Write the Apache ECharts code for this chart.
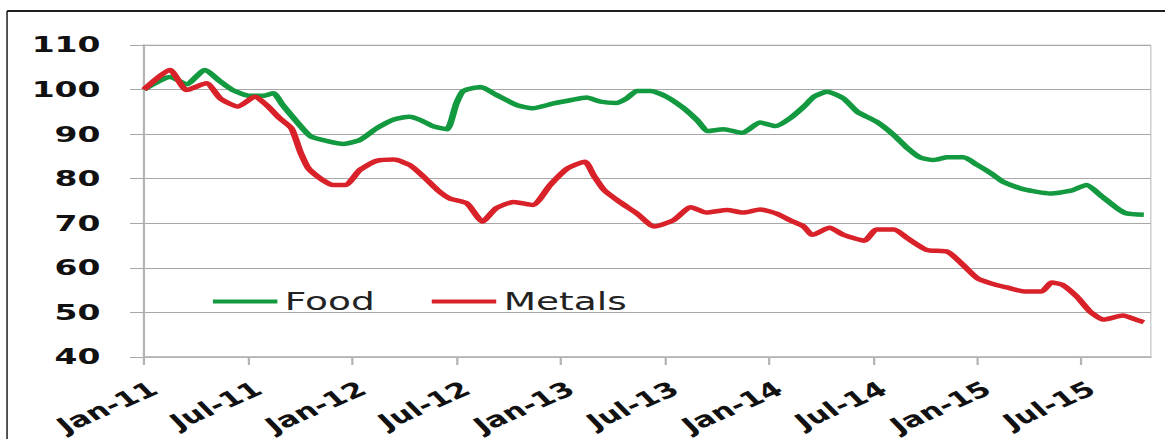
<!DOCTYPE html>
<html>
<head>
<meta charset="utf-8">
<script src="https://cdn.jsdelivr.net/npm/echarts@6/dist/echarts.min.js"></script>
<style>
  html, body { margin: 0; padding: 0; background: #fff; overflow: hidden; }
  /* the chart is laid out narrow and widened horizontally to the full frame */
  #chart { width: 777px; height: 439px; transform: scaleX(1.4994); transform-origin: 0 0; }
</style>
</head>
<body>
<div id="chart"></div>
<script>
// Commodity price indices, Jan-2011 = 100. Points are [months since Jan-11, index].
const food = [
  [0, 100], [1.5, 102.8], [2.46, 101.2], [3.5, 104.4], [4.4, 101.8], [5.1, 99.9],
  [6.1, 98.6], [6.9, 98.6], [7.45, 99.2], [8.0, 96.5], [8.8, 92.8], [9.6, 89.5],
  [10.5, 88.5], [11.5, 87.8], [12.45, 88.7], [13.4, 91.3], [14.4, 93.3], [15.3, 93.9],
  [15.9, 93.2], [16.7, 91.7], [17.45, 91.1], [18.0, 96.9], [18.4, 99.7], [19.4, 100.6],
  [20.3, 98.8], [21.5, 96.5], [22.4, 95.8], [23.6, 96.9], [24.55, 97.6], [25.5, 98.2],
  [26.3, 97.3], [27.2, 97.0], [27.8, 98.0], [28.4, 99.7], [29.2, 99.7], [30.1, 98.4],
  [31.1, 95.8], [31.85, 93.2], [32.5, 90.7], [33.4, 91.1], [34.45, 90.3], [35.5, 92.6],
  [36.4, 91.8], [37.2, 93.5], [38.0, 96.1], [38.6, 98.4], [39.35, 99.5], [40.3, 98.0],
  [41.1, 95.0], [42.2, 92.8], [43.2, 89.8], [44.0, 86.8], [44.7, 84.8], [45.5, 84.2],
  [46.3, 84.8], [47.2, 84.8], [48.0, 83.1], [48.8, 81.2], [49.5, 79.3], [50.7, 77.6],
  [52.2, 76.7], [53.4, 77.3], [54.3, 78.6], [55.1, 76.3], [56.05, 73.4], [56.6, 72.2],
  [57.6, 71.9]
];

const metals = [
  [0, 100], [1.5, 104.4], [2.46, 99.9], [3.6, 101.4], [4.4, 98.0], [5.4, 96.2],
  [6.4, 98.4], [7.07, 96.5], [7.84, 93.5], [8.5, 91.3], [9.0, 86.1], [9.5, 82.2],
  [10.3, 79.7], [10.9, 78.6], [11.6, 78.6], [12.45, 82.0], [13.4, 84.0], [14.4, 84.3],
  [15.3, 83.1], [16.1, 80.5], [16.9, 77.5], [17.6, 75.6], [18.6, 74.5], [19.5, 70.4],
  [20.3, 73.4], [21.3, 74.8], [22.4, 74.1], [23.4, 78.6], [24.4, 82.3], [25.4, 83.8],
  [25.9, 80.8], [26.5, 77.5], [27.4, 74.8], [28.4, 72.2], [29.4, 69.3], [30.5, 70.7],
  [31.5, 73.6], [32.4, 72.4], [33.6, 73.0], [34.5, 72.4], [35.5, 73.1], [36.5, 72.1],
  [37.2, 70.7], [38.0, 69.3], [38.5, 67.4], [39.5, 69.0], [40.3, 67.4], [41.5, 66.1],
  [42.2, 68.6], [43.2, 68.6], [44.0, 66.6], [45.1, 64.0], [46.3, 63.6], [47.2, 60.6],
  [48.0, 57.7], [48.8, 56.5], [49.7, 55.6], [50.7, 54.7], [51.7, 54.7], [52.3, 56.7],
  [52.9, 56.2], [53.75, 53.5], [54.5, 50.2], [55.3, 48.4], [56.4, 49.3], [57.2, 48.3],
  [57.6, 47.8]
];

// half-yearly date ticks, six months apart
const tickLabels = ['Jan-11', 'Jul-11', 'Jan-12', 'Jul-12', 'Jan-13', 'Jul-13',
                    'Jan-14', 'Jul-14', 'Jan-15', 'Jul-15'];
const tickMonths = tickLabels.map((_, i) => i * 6);

const seriesNames = ['Food', 'Metals'];
const seriesColors = ['#13993f', '#d82128'];

const chart = echarts.init(document.getElementById('chart'), null, { renderer: 'svg' });

chart.setOption({
  backgroundColor: '#ffffff',
  animation: false,
  textStyle: { fontFamily: 'DejaVu Sans' },
  grid: {
    left: 96, right: 9.5, top: 45, bottom: 82,
    outerBoundsMode: 'none', containLabel: false,
    show: true, borderColor: '#cfcfcf', borderWidth: 1
  },
  legend: {
    left: 137, top: 284,
    icon: 'rect', itemWidth: 43, itemHeight: 4, itemGap: 38,
    textStyle: { fontSize: 25, color: '#222', fontFamily: 'DejaVu Sans' },
    data: seriesNames
  },
  xAxis: {
    type: 'value', min: 0, max: 58, interval: 6,
    axisLine: { show: true, lineStyle: { color: '#b4b4b4', width: 1.5 } },
    axisTick: { show: true, length: 8, customValues: tickMonths,
                lineStyle: { color: '#b4b4b4', width: 1.5 } },
    splitLine: { show: false },
    axisLabel: {
      customValues: tickMonths,
      formatter: v => tickLabels[Math.round(v / 6)] || '',
      rotate: 33, margin: 19, verticalAlign: 'top', padding: [2, 0, 0, 0],
      fontSize: 21, fontWeight: 'bold', color: '#111', fontFamily: 'DejaVu Sans'
    }
  },
  yAxis: {
    type: 'value', min: 40, max: 110, interval: 10,
    axisLine: { show: true, lineStyle: { color: '#b4b4b4', width: 1.5 } },
    axisTick: { show: true, length: 9.3, lineStyle: { color: '#a8a8a8' } },
    splitLine: { show: true, lineStyle: { color: '#a8a8a8', width: 1 } },
    axisLabel: {
      margin: 29, fontSize: 22, fontWeight: 'bold', color: '#111', fontFamily: 'DejaVu Sans'
    }
  },
  series: [
    { name: seriesNames[0], type: 'line', data: food, showSymbol: false, symbol: 'none',
      smooth: 0.2, color: seriesColors[0], lineStyle: { width: 4.5, color: seriesColors[0] } },
    { name: seriesNames[1], type: 'line', data: metals, showSymbol: false, symbol: 'none',
      smooth: 0.2, color: seriesColors[1], lineStyle: { width: 4.5, color: seriesColors[1] } }
  ],
  graphic: [
    // frame around the figure (top and left edges fall inside the view)
    { type: 'line', shape: { x1: 4.7, y1: 11, x2: 800, y2: 11 },
      style: { stroke: '#1e1e1e', lineWidth: 2.2 }, z: 100 },
    { type: 'line', shape: { x1: 4.7, y1: 11, x2: 4.7, y2: 460 },
      style: { stroke: '#1e1e1e', lineWidth: 1 }, z: 100 }
  ]
});
</script>
</body>
</html>
